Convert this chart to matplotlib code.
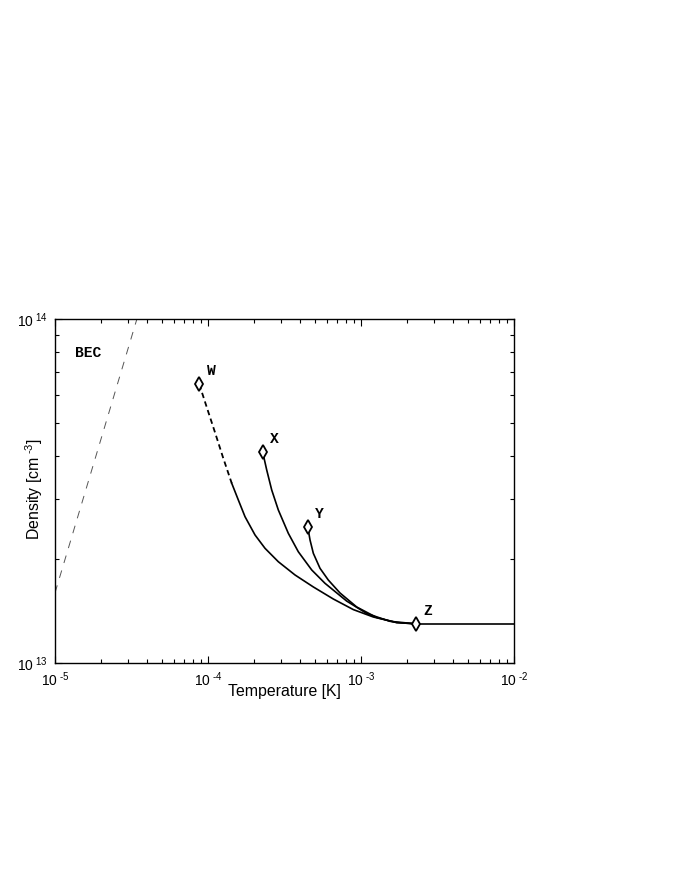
import numpy as np
import matplotlib.pyplot as plt
from matplotlib.ticker import LogLocator, FuncFormatter, NullFormatter

plt.rcParams['font.family'] = ['Liberation Sans', 'DejaVu Sans']
plt.rcParams['mathtext.fontset'] = 'custom'
plt.rcParams['mathtext.rm'] = 'Liberation Sans'
plt.rcParams['mathtext.it'] = 'Liberation Sans'

# BEC boundary, end points
bec_T = [1.0e-5, 3.43e-5]
bec_n = [1.60e13, 1.0e14]

# path from W: dashed part first, then solid down to Z
w_dash_T = [8.77e-5, 9.85e-5, 1.111e-4, 1.253e-4, 1.429e-4]
w_dash_n = [6.46e13, 5.51e13, 4.68e13, 3.96e13, 3.33e13]
w_T = [1.429e-4, 1.578e-4, 1.745e-4, 2.029e-4, 2.358e-4, 2.881e-4, 3.703e-4,
       4.879e-4, 6.592e-4, 8.906e-4, 1.203e-3, 1.711e-3, 2.288e-3]
w_n = [3.33e13, 2.978e13, 2.663e13, 2.356e13, 2.155e13, 1.970e13, 1.803e13,
       1.664e13, 1.535e13, 1.430e13, 1.361e13, 1.311e13, 1.30e13]

# path from X
x_T = [2.278e-4, 2.419e-4, 2.608e-4, 2.881e-4, 3.348e-4, 3.892e-4, 4.763e-4,
       5.816e-4, 8.06e-4, 1.090e-3, 1.547e-3, 2.288e-3]
x_n = [4.10e13, 3.64e13, 3.184e13, 2.785e13, 2.383e13, 2.106e13, 1.864e13,
       1.705e13, 1.514e13, 1.393e13, 1.322e13, 1.30e13]

# path from Y
y_T = [4.484e-4, 4.642e-4, 4.879e-4, 5.395e-4, 6.112e-4, 7.291e-4, 9.374e-4,
       1.266e-3, 1.711e-3, 2.288e-3]
y_n = [2.49e13, 2.279e13, 2.084e13, 1.885e13, 1.743e13, 1.598e13, 1.455e13,
       1.356e13, 1.311e13, 1.30e13]

# flat part beyond Z
z_T = [2.288e-3, 1.0e-2]
z_n = [1.30e13, 1.30e13]

# labelled points
pt_names = ['W', 'X', 'Y', 'Z']
pt_T = [8.77e-5, 2.278e-4, 4.484e-4, 2.288e-3]
pt_n = [6.46e13, 4.10e13, 2.49e13, 1.30e13]

fig = plt.figure(figsize=(6.92, 8.96), dpi=100)
ax = fig.add_axes([0.0795, 0.2600, 0.6633, 0.3840])
ax.set_xscale('log')
ax.set_yscale('log')
ax.set_xlim(1e-5, 1e-2)
ax.set_ylim(1e13, 1e14)

ax.plot(bec_T, bec_n, color='#555555', lw=0.7, dashes=(8, 8))
ax.plot(w_dash_T, w_dash_n, color='black', lw=1.3, dashes=(3, 2))
ax.plot(w_T, w_n, color='black', lw=1.2)
ax.plot(x_T, x_n, color='black', lw=1.2)
ax.plot(y_T, y_n, color='black', lw=1.2)
ax.plot(z_T, z_n, color='black', lw=1.2)
ax.plot(pt_T, pt_n, ls='none', marker='d', ms=7.5, mfc='white', mec='black', mew=1.3, zorder=5)

for name, t, n in zip(pt_names, pt_T, pt_n):
    ax.annotate(name, (t, n), xytext=(5.5, 6.5), textcoords='offset points',
                family='Liberation Mono', weight='bold', fontsize=10.5)
ax.text(1.65e-5, 7.98e13, 'BEC', family='Liberation Mono', weight='bold',
        fontsize=10.5, ha='center', va='center')

def sci(v, pos):
    e = int(round(np.log10(v)))
    if e < 0:
        return r'$10^{\ \text{-}%d}$' % (-e)
    return r'$10^{\ %d}$' % e

ax.xaxis.set_major_locator(LogLocator(base=10, numticks=10))
ax.yaxis.set_major_locator(LogLocator(base=10, numticks=10))
ax.xaxis.set_major_formatter(FuncFormatter(sci))
ax.yaxis.set_major_formatter(FuncFormatter(sci))
ax.xaxis.set_minor_formatter(NullFormatter())
ax.yaxis.set_minor_formatter(NullFormatter())
ax.tick_params(which='both', direction='in', top=True, right=True, labelsize=10, width=0.8)
ax.tick_params(which='major', length=5, pad=5)
ax.tick_params(which='minor', length=3)
for s in ax.spines.values():
    s.set_linewidth(1.0)

ax.set_xlabel('Temperature [K]', fontsize=11.4, labelpad=-3)
ax.set_ylabel(r'Density [cm$^{\ \text{-}3}$]', fontsize=11.4)
ax.yaxis.set_label_coords(-0.021, 0.505)

fig.savefig('out.png', dpi=100)
